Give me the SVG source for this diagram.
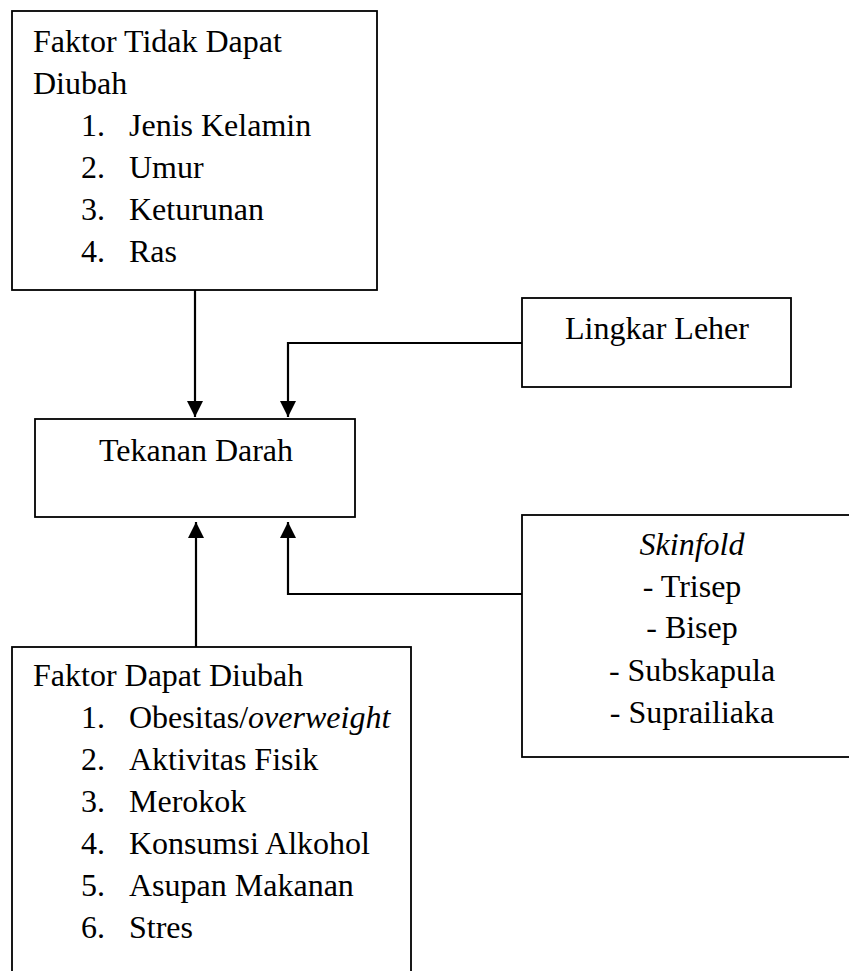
<svg xmlns="http://www.w3.org/2000/svg" width="849" height="971" viewBox="0 0 849 971">
<style>
  .box{fill:#fff;stroke:#000;stroke-width:1.8}
  .t{font-family:"Liberation Serif","Times New Roman",serif;font-size:32px;fill:#000}
  .c{text-anchor:middle}
  .i{font-style:italic}
  .conn{fill:none;stroke:#000;stroke-width:2.2}
</style>
<defs>
  <marker id="ah" markerUnits="userSpaceOnUse" markerWidth="16" markerHeight="16" viewBox="0 0 16 16" refX="16" refY="8" orient="auto">
    <path d="M0,0 L16,8 L0,16 Z" fill="#000"/>
  </marker>
</defs>
<rect width="849" height="971" fill="#fff"/>
<g id="tidak-dapat">
  <rect class="box" x="12" y="11" width="365" height="279"/>
  <text class="t" x="33" y="52">Faktor Tidak Dapat</text>
  <text class="t" x="33" y="94">Diubah</text>
  <text class="t" x="81" y="136">1.</text><text class="t" x="129" y="136">Jenis Kelamin</text>
  <text class="t" x="81" y="178">2.</text><text class="t" x="129" y="178">Umur</text>
  <text class="t" x="81" y="220">3.</text><text class="t" x="129" y="220">Keturunan</text>
  <text class="t" x="81" y="262">4.</text><text class="t" x="129" y="262">Ras</text>
</g>
<g id="lingkar-leher">
  <rect class="box" x="522" y="298" width="269" height="89"/>
  <text class="t c" x="657" y="339">Lingkar Leher</text>
</g>
<g id="tekanan-darah">
  <rect class="box" x="35" y="419" width="320" height="98"/>
  <text class="t c" x="196" y="461">Tekanan Darah</text>
</g>
<g id="skinfold">
  <rect class="box" x="522" y="515" width="340" height="242"/>
  <text class="t c i" x="692" y="555">Skinfold</text>
  <text class="t c" x="692" y="597">- Trisep</text>
  <text class="t c" x="692" y="638">- Bisep</text>
  <text class="t c" x="692" y="681">- Subskapula</text>
  <text class="t c" x="692" y="723">- Suprailiaka</text>
</g>
<g id="dapat">
  <rect class="box" x="12" y="647" width="399" height="340"/>
  <text class="t" x="33" y="686">Faktor Dapat Diubah</text>
  <text class="t" x="81" y="728">1.</text><text class="t" x="129" y="728">Obesitas/<tspan class="i">overweight</tspan></text>
  <text class="t" x="81" y="770">2.</text><text class="t" x="129" y="770">Aktivitas Fisik</text>
  <text class="t" x="81" y="812">3.</text><text class="t" x="129" y="812">Merokok</text>
  <text class="t" x="81" y="854">4.</text><text class="t" x="129" y="854">Konsumsi Alkohol</text>
  <text class="t" x="81" y="896">5.</text><text class="t" x="129" y="896">Asupan Makanan</text>
  <text class="t" x="81" y="938">6.</text><text class="t" x="129" y="938">Stres</text>
</g>
<g id="connectors">
  <path class="conn" d="M195,290 V417" marker-end="url(#ah)"/>
  <path class="conn" d="M522,343 H288 V417" marker-end="url(#ah)"/>
  <path class="conn" d="M196,647 V522" marker-end="url(#ah)"/>
  <path class="conn" d="M522,594 H288 V522" marker-end="url(#ah)"/>
</g>
</svg>
